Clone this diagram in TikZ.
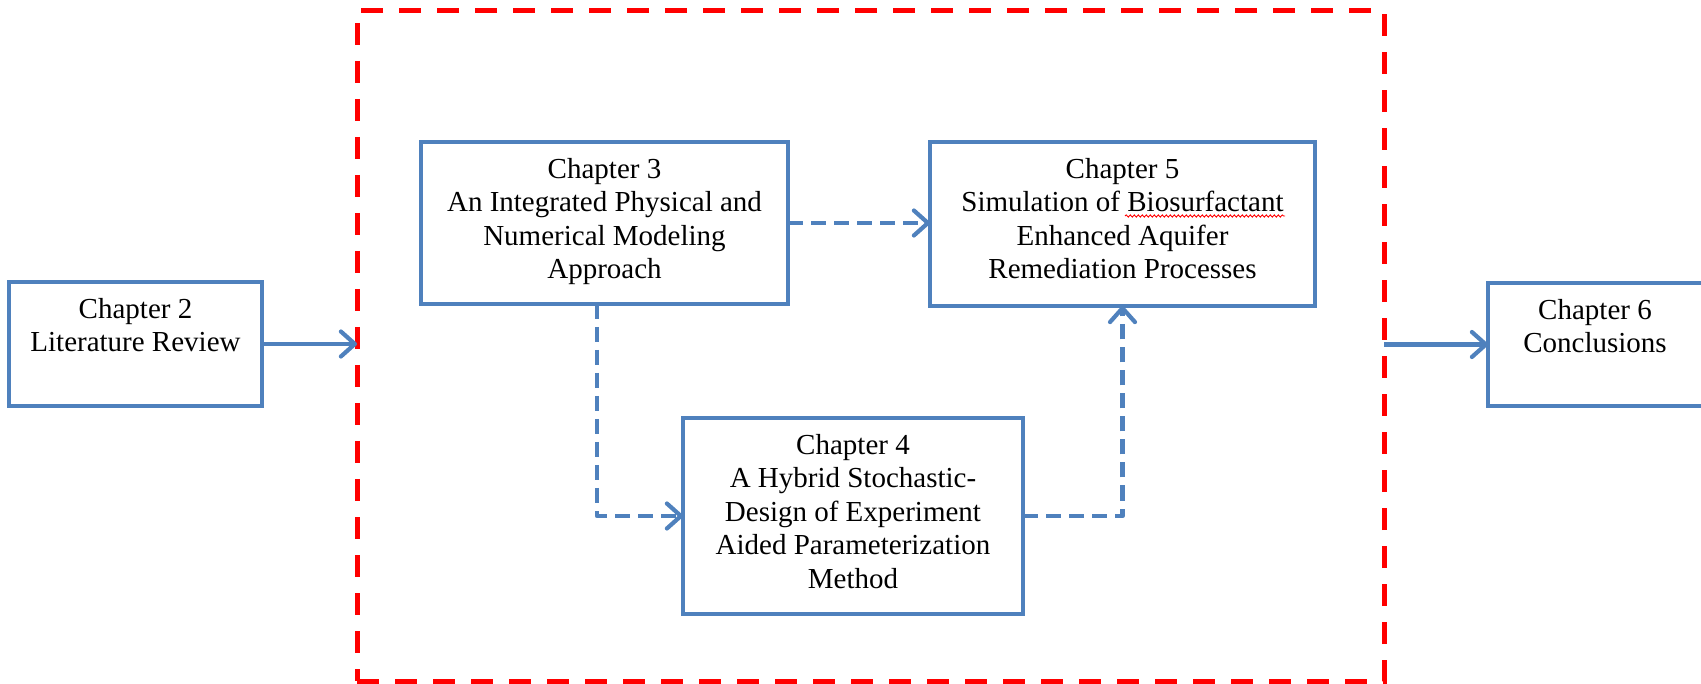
\documentclass[tikz,border=0pt]{standalone}
\usepackage{fontspec}
\setmainfont{Liberation Serif}
\usetikzlibrary{arrows.meta,decorations.pathmorphing}
\definecolor{boxblue}{RGB}{79,129,189}
\definecolor{framered}{RGB}{255,0,0}
\begin{document}
\begin{tikzpicture}[x=1pt,y=-1pt,
  chbox/.style={draw=boxblue,line width=4.5pt,rectangle,inner sep=0pt,outer sep=0pt},
  chtext/.style={anchor=north,inner sep=0pt,align=center,font=\fontsize{29}{33.5}\selectfont},
  solidarrow/.style={draw=boxblue,line width=4.2pt,-{Straight Barb[length=14pt,width=25pt,line width=4.2pt,line cap=round,line join=round]}},
  dasharrow/.style={solidarrow,line width=4.8pt,dash pattern=on 15pt off 8pt,line join=round}
]
\useasboundingbox (0,0) rectangle (1701,684);
% red dashed frame
\node[draw=framered,line width=5pt,dash pattern=on 22pt off 16pt,rectangle,
      minimum width=1027pt,minimum height=670pt,inner sep=0pt,outer sep=0pt] (frame) at (870.5,346) {};
% boxes
\node[chbox,minimum width=253pt,minimum height=124pt] (ch2) at (135.5,344) {};
\node[chbox,minimum width=367pt,minimum height=162pt] (ch3) at (604.5,223) {};
\node[chbox,minimum width=385pt,minimum height=164pt] (ch5) at (1122.5,224) {};
\node[chbox,minimum width=340pt,minimum height=196pt] (ch4) at (853,516) {};
\node[chbox,minimum width=218pt,minimum height=123pt] (ch6) at (1597,344.5) {};
% texts
\node[chtext] (t2) at ([yshift=-16pt]ch2.north) {Chapter 2\\Literature Review};
\node[chtext] (t3) at ([yshift=-16pt]ch3.north) {Chapter 3\\An Integrated Physical and\\Numerical Modeling\\Approach};
\node[chtext] (t5) at ([yshift=-16pt]ch5.north) {Chapter 5\\Simulation of Biosurfactant\\Enhanced Aquifer\\Remediation Processes};
\node[chtext] (t4) at ([yshift=-16pt]ch4.north) {Chapter 4\\A Hybrid Stochastic-\\Design of Experiment\\Aided Parameterization\\Method};
\node[chtext] (t6) at ([yshift=-16pt,xshift=-2pt]ch6.north) {Chapter 6\\Conclusions};
% spell-check squiggle
\draw[framered,line width=0.9pt,decorate,decoration={snake,amplitude=1.1pt,segment length=4pt}] (1125,216) -- (1285,216);
% connectors
\draw[solidarrow] (ch2.east) -- (ch2.east -| frame.west);
\draw[solidarrow] (ch6.west -| frame.east) -- (ch6.west);
\draw[dasharrow] (ch3.east) -- (ch3.east -| ch5.west);
\draw[dasharrow] ([xshift=-7.5pt]ch3.south) |- (ch4.west);
\draw[dasharrow] (ch4.east) -| (ch5.south);
\end{tikzpicture}
\end{document}
